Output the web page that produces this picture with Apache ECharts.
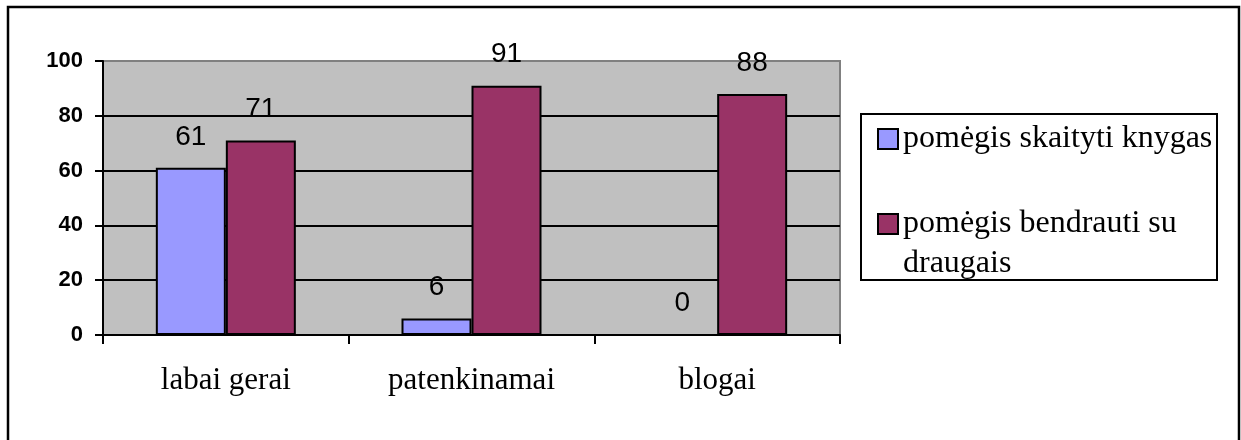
<!DOCTYPE html>
<html lang="lt">
<head>
<meta charset="utf-8">
<title>Pomėgiai</title>
<script src="https://cdn.jsdelivr.net/npm/echarts@6/dist/echarts.min.js"></script>
<style>
    html, body { margin: 0; padding: 0; background: #fff; }
    #chart { width: 1241px; height: 440px; }
</style>
</head>
<body>
<div id="chart"></div>
<script>
// ---- duomenys ----
var categories = ['labai gerai', 'patenkinamai', 'blogai'];
var seriesNames = ['pomėgis skaityti knygas', 'pomėgis bendrauti su draugais'];
var readingValues = [61, 6, 0];
var friendsValues = [71, 91, 88];
var yTicks = { min: 0, max: 100, interval: 20 };

(function () {
    'use strict';

    var SERIF = '"Liberation Serif", "Times New Roman", serif';
    var SANS = '"Liberation Sans", Arial, sans-serif';

    function barSeries(name, values, color) {
        return {
            name: name,
            type: 'bar',
            data: values,
            barWidth: 70,
            barGap: '0%',
            itemStyle: { color: color, borderColor: '#000', borderWidth: 2 },
            label: {
                show: true,
                position: 'top',
                distance: 17,
                color: '#000',
                fontFamily: SANS,
                fontSize: 28
            }
        };
    }

    function init() {
        var chart = echarts.init(document.getElementById('chart'), null, { renderer: 'canvas' });

        var legendText = { color: '#000', fontFamily: SERIF, fontSize: 32, lineHeight: 40 };

        var option = {
            animation: false,
            backgroundColor: '#fff',
            grid: {
                left: 103, top: 61, right: 401, bottom: 105,
                show: true,
                backgroundColor: '#C0C0C0',
                borderColor: '#808080',
                borderWidth: 2
            },
            xAxis: {
                type: 'category',
                data: categories,
                axisLine: { lineStyle: { color: '#000', width: 2 } },
                axisTick: { show: true, length: 9, lineStyle: { color: '#000', width: 2 } },
                axisLabel: {
                    color: '#000',
                    fontFamily: SERIF,
                    fontSize: 31,
                    margin: 30
                }
            },
            yAxis: {
                type: 'value',
                min: yTicks.min,
                max: yTicks.max,
                interval: yTicks.interval,
                axisLine: { show: true, lineStyle: { color: '#000', width: 2 } },
                axisTick: { show: true, length: 8, lineStyle: { color: '#000', width: 2 } },
                axisLabel: {
                    color: '#000',
                    fontFamily: SANS,
                    fontWeight: 'bold',
                    fontSize: 22,
                    margin: 20
                },
                splitLine: {
                    show: true,
                    showMaxLine: false,
                    lineStyle: { color: '#000', width: 2 }
                }
            },
            // legend: two blocks, the second one wraps onto two lines
            // (a blank first line keeps the marker level with "pomėgis bendrauti su")
            legend: [
                {
                    data: [seriesNames[0]],
                    orient: 'vertical',
                    icon: 'rect',
                    left: 872, top: 114,
                    itemWidth: 20, itemHeight: 20,
                    textStyle: legendText
                },
                {
                    data: [seriesNames[1]],
                    orient: 'vertical',
                    icon: 'rect',
                    left: 872, top: 159,
                    itemWidth: 20, itemHeight: 20,
                    formatter: function () { return ' \npomėgis bendrauti su\ndraugais'; },
                    textStyle: legendText
                }
            ],
            graphic: [
                {
                    type: 'rect', silent: true,
                    shape: { x: 8, y: 7, width: 1231, height: 440 },
                    style: { fill: null, stroke: '#000', lineWidth: 2.5 }
                },
                {
                    type: 'rect', silent: true,
                    shape: { x: 861, y: 114, width: 356, height: 166 },
                    style: { fill: null, stroke: '#000', lineWidth: 2 }
                }
            ],
            series: [
                barSeries(seriesNames[0], readingValues, '#9999FF'),
                barSeries(seriesNames[1], friendsValues, '#993366')
            ]
        };

        chart.setOption(option);
    }

    if (document.readyState === 'loading') {
        document.addEventListener('DOMContentLoaded', init);
    } else {
        init();
    }
})();
</script>
</body>
</html>
